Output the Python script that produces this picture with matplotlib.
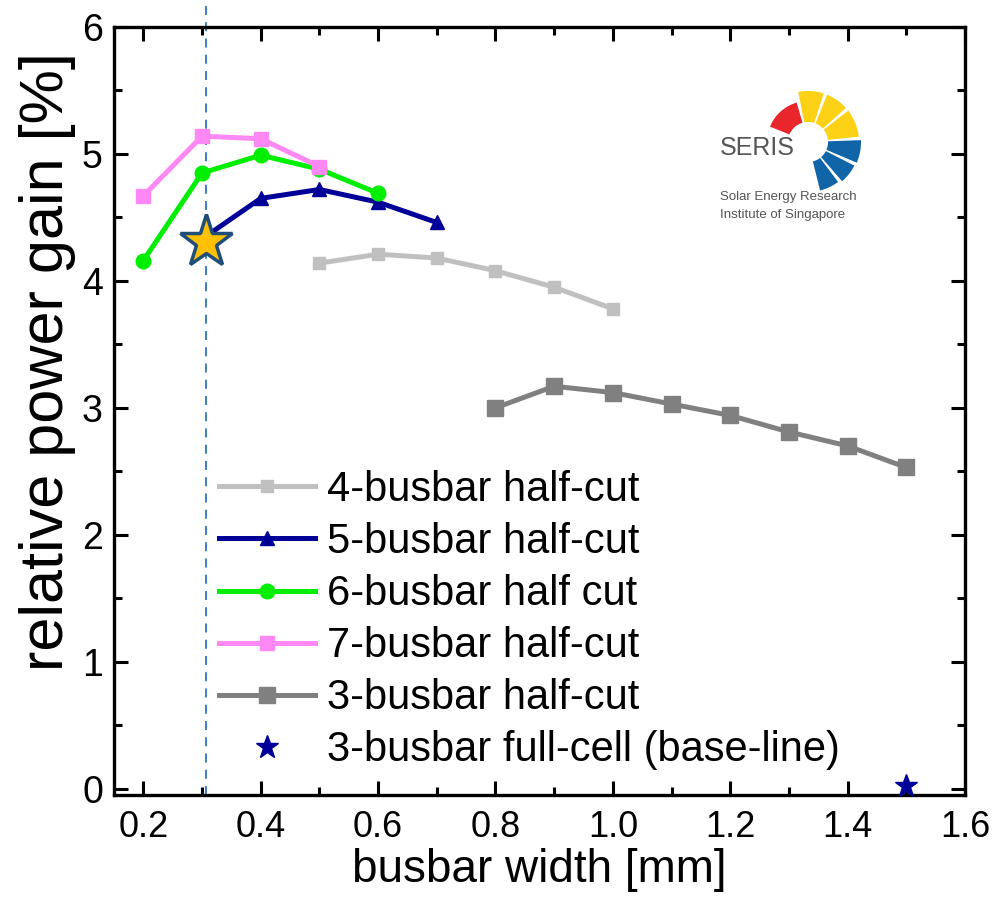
import numpy as np
import matplotlib.pyplot as plt
from matplotlib.patches import Wedge
from matplotlib.ticker import MultipleLocator

plt.rcParams['font.family'] = ['Liberation Sans', 'DejaVu Sans']

# data
x_4bb = [0.5, 0.6, 0.7, 0.8, 0.9, 1.0]
y_4bb = [4.14, 4.21, 4.18, 4.08, 3.95, 3.78]

x_5bb = [0.3, 0.4, 0.5, 0.6, 0.7]
y_5bb = [4.33, 4.65, 4.72, 4.62, 4.46]

x_6bb = [0.2, 0.3, 0.4, 0.5, 0.6]
y_6bb = [4.16, 4.85, 4.99, 4.88, 4.69]

x_7bb = [0.2, 0.3, 0.4, 0.5]
y_7bb = [4.67, 5.14, 5.12, 4.90]

x_3bb = [0.8, 0.9, 1.0, 1.1, 1.2, 1.3, 1.4, 1.5]
y_3bb = [3.00, 3.17, 3.12, 3.03, 2.94, 2.81, 2.70, 2.53]

x_base = [1.5]
y_base = [0.02]

x_opt = 0.307
y_opt = 4.31

labels = ['4-busbar half-cut', '5-busbar half-cut', '6-busbar half cut',
          '7-busbar half-cut', '3-busbar half-cut', '3-busbar full-cell (base-line)']

fig = plt.figure(figsize=(10.04, 8.98), dpi=100)
ax = fig.add_axes([114/1004, 1-795/898, (965-114)/1004, (795-27)/898])

lw = 3.6
ax.plot(x_4bb, y_4bb, color='#c0c0c0', lw=lw, marker='s', ms=9, label=labels[0])
ax.plot(x_5bb, y_5bb, color='#000099', lw=lw, marker='^', ms=10.5, label=labels[1])
ax.plot(x_6bb, y_6bb, color='#00ee00', lw=lw, marker='o', ms=10.5, label=labels[2])
ax.plot(x_7bb, y_7bb, color='#ff88f4', lw=lw, marker='s', ms=9.5, label=labels[3])
ax.plot(x_3bb, y_3bb, color='#808080', lw=lw, marker='s', ms=11, label=labels[4])
ax.plot(x_base, y_base, ls='none', color='#000099', marker='*', ms=17, label=labels[5],
        clip_on=False, zorder=5)

# optimum marker and guide line
ax.axvline(x_opt, ymin=0, ymax=1.035, color='#2e75b6', lw=1.3, ls=(0, (5, 4)),
           clip_on=False, zorder=1)
ax.plot([x_opt], [y_opt], marker='*', ms=40, mfc='#ffc000', mec='#1f4e79', mew=2.5,
        ls='none', zorder=6)

ax.set_xlim(0.15, 1.6)
ax.set_ylim(-0.05, 6.0)
ax.xaxis.set_minor_locator(MultipleLocator(0.1))
ax.yaxis.set_major_locator(MultipleLocator(1))
ax.yaxis.set_minor_locator(MultipleLocator(0.5))
ax.set_xticks(np.arange(0.2, 1.61, 0.2))
ax.set_xticklabels(['0.2', '0.4', '0.6', '0.8', '1.0', '1.2', '1.4', '1.6'])

ax.tick_params(which='both', direction='in', top=True, right=True, width=2.2)
ax.tick_params(which='major', length=10)
ax.tick_params(which='minor', length=6)
ax.tick_params(axis='x', labelsize=26, pad=11)
ax.tick_params(axis='y', labelsize=27, pad=8)
for s in ax.spines.values():
    s.set_linewidth(2.4)

ax.set_xlabel('busbar width [mm]', fontsize=33, labelpad=2)
ax.set_ylabel('relative power gain [%]', fontsize=44)
ax.yaxis.set_label_coords(-0.045, 0.565)

ax.legend(loc='upper left', bbox_to_anchor=(219/1004, 1-470/898),
          bbox_transform=fig.transFigure, frameon=False, fontsize=30,
          handlelength=2.3, handletextpad=0.3, labelspacing=0.29, borderpad=0,
          borderaxespad=0)

# SERIS logo
lax = fig.add_axes([700/1004, 1-230/898, 180/1004, 150/898])
lax.set_xlim(700, 880)
lax.set_ylim(898-230, 898-80)
lax.axis('off')
cx, cy = 808, 898-142
wedges = [((106, 158), 41, '#e8262b'),
          ((72, 101), 51, '#fcd116'),
          ((42, 68), 51, '#fcd116'),
          ((6, 38), 51, '#fcd116'),
          ((-23, 2), 53, '#1064a8'),
          ((-49, -27), 52, '#1064a8'),
          ((-76, -53), 50, '#1064a8')]
for (t1, t2), r, c in wedges:
    lax.add_patch(Wedge((cx, cy), r, t1, t2, width=r-20, color=c, lw=0))
lax.text(757, 898-148, 'SERIS', fontsize=18, color='#555555', ha='center', va='center')
lax.text(720, 898-197, 'Solar Energy Research', fontsize=9.5, color='#555555',
         ha='left', va='center')
lax.text(720, 898-215, 'Institute of Singapore', fontsize=9.5, color='#555555',
         ha='left', va='center')

fig.savefig('out.png', dpi=100)
